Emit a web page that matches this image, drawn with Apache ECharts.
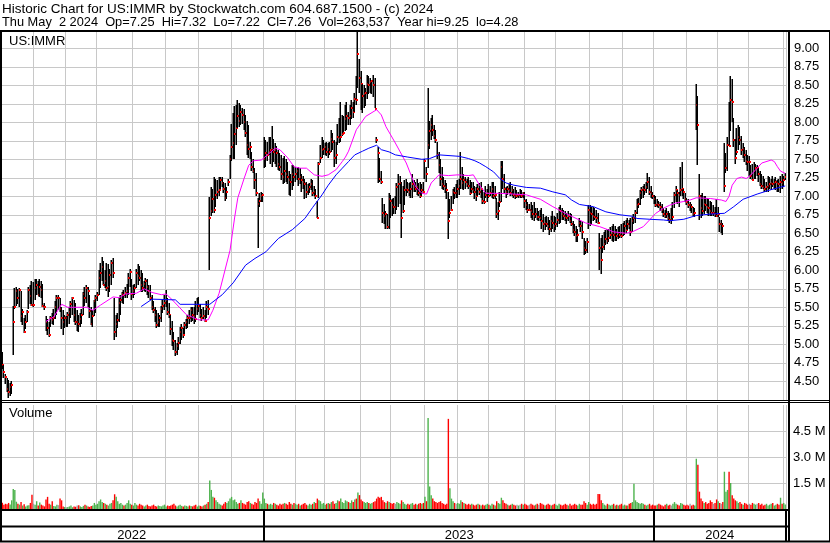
<!DOCTYPE html>
<html><head><meta charset="utf-8">
<script src="https://cdn.jsdelivr.net/npm/echarts@6/dist/echarts.min.js"></script>
<style>html,body{margin:0;padding:0;background:#fff}#c{width:830px;height:543px}</style>
</head><body><div id="c"></div>
<script>
const titleLine1 = 'Historic Chart for US:IMMR by Stockwatch.com 604.687.1500 - (c) 2024';
const titleLine2 = 'Thu May  2 2024  Op=7.25  Hi=7.32  Lo=7.22  Cl=7.26  Vol=263,537  Year hi=9.25  lo=4.28';
const symbolLabel = 'US:IMMR';
const volumeLabel = 'Volume';

const high = [
4.94,4.90,4.72,4.60,4.55,4.52,4.48,4.50,5.52,5.76,
5.78,5.75,5.76,5.72,5.48,5.36,5.40,5.46,5.78,5.80,
5.86,5.84,5.88,5.88,5.86,5.88,5.86,5.82,5.56,5.38,
5.34,5.30,5.38,5.42,5.48,5.58,5.66,5.66,5.62,5.50,
5.46,5.40,5.38,5.44,5.50,5.58,5.64,5.60,5.56,5.46,
5.40,5.42,5.48,5.70,5.78,5.80,5.78,5.66,5.50,5.46,
5.60,5.66,5.70,6.00,6.10,6.18,6.12,6.00,6.10,6.08,
6.02,6.14,6.16,5.62,5.40,5.42,5.62,5.66,5.70,5.74,
5.78,5.82,5.96,6.02,5.88,5.80,5.82,6.02,6.08,6.06,
6.00,5.96,5.86,5.90,5.88,5.80,5.80,5.66,5.58,5.50,
5.46,5.42,5.40,5.52,5.60,5.66,5.74,5.62,5.56,5.40,
5.32,5.16,5.06,5.02,5.10,5.24,5.28,5.22,5.30,5.34,
5.40,5.46,5.50,5.50,5.50,5.58,5.62,5.64,5.54,5.48,
5.50,5.46,5.58,5.60,6.99,7.12,7.10,7.26,7.24,7.22,
7.26,7.26,7.26,7.20,7.18,7.12,7.24,7.56,7.98,8.12,
8.22,8.24,8.30,8.26,8.24,8.20,8.18,8.10,8.02,7.96,
7.74,7.60,7.50,7.38,7.32,6.98,7.04,7.06,7.04,7.80,
7.76,7.74,7.80,7.80,7.95,7.78,7.72,7.68,7.62,7.58,
7.56,7.52,7.54,7.50,7.46,7.34,7.30,7.42,7.42,7.40,
7.38,7.40,7.38,7.30,7.28,7.24,7.20,7.16,7.18,7.24,
7.22,7.14,7.10,6.94,7.47,7.70,7.80,7.76,7.72,7.74,
7.72,7.74,7.90,7.86,7.76,7.74,7.98,8.06,8.28,8.10,
8.08,8.24,8.28,8.14,8.24,8.30,8.28,8.40,8.62,9.25,
8.86,8.70,8.52,8.50,8.46,8.64,8.62,8.60,8.56,8.64,
8.60,7.80,7.66,7.52,7.34,6.98,6.90,6.80,6.76,7.04,
7.02,6.96,6.98,7.00,7.18,7.30,7.28,7.20,7.14,7.22,
7.24,7.20,7.18,7.20,7.30,7.22,7.20,7.24,7.18,7.20,
7.16,7.20,7.50,7.40,8.46,8.02,8.06,8.10,7.96,7.90,
7.74,7.60,7.50,7.40,7.26,7.22,7.18,7.06,6.96,7.00,
7.10,7.12,7.16,7.22,7.24,7.60,7.40,7.30,7.26,7.24,
7.26,7.22,7.20,7.20,7.14,7.12,7.16,7.18,7.20,7.08,
7.06,7.14,7.10,7.16,7.14,7.20,7.20,7.14,6.98,6.92,
7.06,7.48,7.48,7.30,7.12,7.14,7.16,7.20,7.14,7.10,
7.12,7.08,7.06,7.10,7.08,7.06,7.06,6.96,6.92,6.90,
6.92,6.88,6.92,6.84,6.84,6.80,6.82,6.84,6.76,6.72,
6.74,6.72,6.68,6.74,6.80,6.74,6.72,6.78,6.86,6.88,
6.84,6.82,6.80,6.78,6.80,6.78,6.76,6.66,6.62,6.60,
6.56,6.70,6.68,6.66,6.44,6.40,6.44,6.88,6.88,6.86,
6.86,6.84,6.82,6.78,6.50,6.44,6.48,6.52,6.54,6.56,
6.56,6.58,6.60,6.62,6.60,6.56,6.58,6.60,6.62,6.64,
6.66,6.68,6.70,6.68,6.70,6.72,6.76,6.82,6.96,6.98,
7.08,7.12,7.14,7.16,7.20,7.32,7.26,7.14,7.06,7.02,
7.00,6.96,6.94,6.92,6.90,6.84,6.82,6.84,6.80,6.78,
6.84,6.92,7.06,7.14,7.08,7.06,7.40,7.46,7.10,7.04,
6.98,6.96,6.92,6.90,6.86,6.84,8.52,8.36,7.30,7.02,
7.04,7.00,7.00,6.98,6.96,6.94,6.92,6.88,6.86,6.96,
6.86,6.72,6.68,6.64,7.72,7.58,7.80,8.28,8.62,8.58,
8.06,7.78,7.92,7.96,7.94,7.82,7.72,7.66,7.62,7.56,
7.54,7.42,7.44,7.46,7.43,7.42,7.38,7.34,7.30,7.28,
7.24,7.20,7.28,7.26,7.24,7.28,7.24,7.26,7.22,7.24,
7.28,7.30,7.28,7.32];

const low = [
4.78,4.66,4.55,4.46,4.35,4.28,4.30,4.33,4.86,5.48,
5.52,5.55,5.50,5.30,5.26,5.15,5.20,5.30,5.48,5.55,
5.52,5.50,5.60,5.66,5.66,5.64,5.62,5.50,5.46,5.18,
5.12,5.10,5.24,5.28,5.26,5.34,5.40,5.46,5.44,5.20,
5.12,5.22,5.24,5.24,5.28,5.36,5.40,5.30,5.26,5.18,
5.16,5.24,5.28,5.40,5.52,5.56,5.50,5.36,5.26,5.24,
5.38,5.42,5.58,5.66,5.76,5.86,5.80,5.76,5.72,5.64,
5.70,5.80,5.90,5.06,5.10,5.22,5.30,5.40,5.56,5.54,
5.62,5.62,5.66,5.78,5.60,5.62,5.66,5.76,5.80,5.86,
5.70,5.70,5.72,5.70,5.66,5.62,5.60,5.46,5.42,5.30,
5.22,5.24,5.24,5.30,5.42,5.46,5.50,5.40,5.36,5.12,
4.98,4.92,4.84,4.86,4.92,5.00,5.06,5.08,5.14,5.20,
5.22,5.28,5.30,5.32,5.28,5.30,5.40,5.44,5.36,5.32,
5.34,5.30,5.36,5.40,6.00,6.74,6.78,6.78,6.86,6.96,
7.00,7.10,7.12,7.04,6.94,6.96,7.14,7.24,7.48,7.50,
7.50,7.70,7.92,7.94,7.96,7.98,7.90,7.80,7.56,7.52,
7.50,7.34,7.32,7.10,7.00,6.30,6.86,6.92,6.92,7.38,
7.40,7.48,7.56,7.44,7.40,7.46,7.44,7.40,7.36,7.34,
7.22,7.16,7.18,7.20,7.16,7.02,7.00,7.08,7.14,7.20,
7.22,7.14,7.16,7.06,7.10,6.96,6.98,7.02,7.04,7.08,
7.00,7.00,6.96,6.70,6.98,7.45,7.52,7.56,7.56,7.54,
7.52,7.56,7.60,7.62,7.40,7.44,7.70,7.72,7.74,7.82,
7.84,7.88,7.90,7.96,7.96,8.04,8.06,8.14,8.24,8.46,
8.40,8.16,8.12,8.20,8.22,8.32,8.38,8.40,8.38,8.34,
8.20,7.72,7.18,7.20,7.16,6.64,6.62,6.56,6.56,6.56,
6.70,6.74,6.76,6.76,6.82,6.86,6.90,6.44,6.78,6.88,
7.00,7.04,7.00,6.98,6.98,7.06,7.06,7.02,7.00,6.98,
7.00,7.04,7.24,7.20,7.38,7.64,7.76,7.82,7.78,7.72,
7.50,7.32,7.14,7.10,7.08,7.04,6.96,6.42,6.70,6.80,
6.90,6.96,6.98,6.98,7.02,7.10,7.10,7.08,7.10,7.12,
7.10,7.02,7.04,7.04,6.96,6.94,7.00,7.02,6.98,6.90,
6.90,6.98,6.92,6.98,7.00,6.98,6.96,6.96,6.70,6.68,
6.86,6.92,7.10,7.04,6.98,7.02,7.04,7.00,7.00,6.98,
6.96,6.98,6.98,6.98,6.98,6.98,6.84,6.82,6.78,6.80,
6.70,6.68,6.66,6.70,6.68,6.66,6.66,6.56,6.52,6.54,
6.58,6.54,6.48,6.52,6.56,6.52,6.54,6.58,6.62,6.64,
6.68,6.68,6.66,6.62,6.66,6.64,6.60,6.50,6.46,6.38,
6.38,6.58,6.52,6.42,6.20,6.22,6.24,6.56,6.60,6.62,
6.66,6.68,6.64,6.62,6.00,5.95,6.24,6.28,6.34,6.36,
6.38,6.42,6.40,6.38,6.40,6.40,6.42,6.44,6.44,6.46,
6.48,6.50,6.54,6.56,6.46,6.52,6.62,6.64,6.76,6.84,
6.88,6.96,6.98,7.02,7.04,7.10,7.02,6.98,6.96,6.90,
6.86,6.86,6.84,6.80,6.78,6.72,6.70,6.70,6.66,6.64,
6.62,6.66,6.84,6.92,6.90,6.86,7.00,7.00,6.96,6.92,
6.88,6.84,6.80,6.78,6.74,6.72,7.90,7.42,6.68,6.70,
6.74,6.76,6.80,6.78,6.74,6.74,6.74,6.74,6.72,6.72,
6.72,6.52,6.50,6.48,7.06,7.32,7.34,7.68,7.88,8.00,
7.66,7.44,7.56,7.62,7.70,7.56,7.52,7.46,7.42,7.34,
7.28,7.24,7.22,7.24,7.24,7.28,7.20,7.14,7.10,7.10,
7.06,7.06,7.06,7.10,7.08,7.12,7.10,7.08,7.06,7.06,
7.04,7.10,7.12,7.22];

const close = [
4.83,4.72,4.62,4.56,4.40,4.36,4.42,4.45,5.30,5.50,
5.72,5.62,5.74,5.38,5.43,5.17,5.30,5.44,5.74,5.65,
5.53,5.53,5.76,5.80,5.67,5.78,5.74,5.52,5.50,5.30,
5.22,5.12,5.36,5.33,5.36,5.50,5.62,5.62,5.48,5.36,
5.30,5.35,5.35,5.40,5.44,5.55,5.62,5.40,5.30,5.30,
5.28,5.34,5.40,5.68,5.62,5.76,5.72,5.45,5.28,5.38,
5.58,5.62,5.66,5.90,5.96,6.04,5.80,5.85,5.76,5.78,
5.94,6.10,5.96,5.16,5.28,5.33,5.56,5.60,5.68,5.66,
5.69,5.72,5.90,5.98,5.68,5.72,5.76,5.96,5.92,5.90,
5.80,5.76,5.82,5.86,5.78,5.72,5.62,5.50,5.47,5.40,
5.26,5.30,5.36,5.48,5.52,5.56,5.60,5.44,5.40,5.20,
5.06,5.04,4.90,4.98,5.02,5.16,5.22,5.12,5.26,5.30,
5.36,5.35,5.46,5.40,5.38,5.34,5.48,5.52,5.40,5.36,
5.38,5.32,5.50,5.48,6.70,6.80,6.96,6.82,7.02,7.06,
7.08,7.22,7.18,7.10,6.98,7.06,7.20,7.50,7.66,7.72,
7.84,7.92,8.08,8.02,8.14,8.10,8.00,7.86,7.70,7.64,
7.66,7.40,7.34,7.22,7.04,6.90,6.94,7.00,7.02,7.50,
7.58,7.56,7.60,7.62,7.64,7.60,7.62,7.58,7.44,7.40,
7.30,7.26,7.34,7.30,7.26,7.22,7.20,7.30,7.26,7.30,
7.34,7.24,7.26,7.22,7.20,7.16,7.06,7.10,7.12,7.16,
7.04,7.06,7.00,6.70,7.44,7.52,7.62,7.64,7.66,7.60,
7.64,7.60,7.78,7.74,7.52,7.56,7.80,7.79,7.80,7.84,
7.86,8.04,8.08,8.06,8.08,8.20,8.14,8.32,8.30,8.92,
8.60,8.52,8.36,8.38,8.40,8.52,8.50,8.54,8.56,8.50,
8.18,7.76,7.58,7.24,7.20,6.78,6.74,6.76,6.58,6.96,
6.94,6.88,6.86,6.86,7.12,7.16,7.18,6.70,6.80,7.08,
7.10,7.08,7.06,7.10,7.16,7.12,7.10,7.12,7.04,7.00,
7.08,7.06,7.48,7.30,7.70,7.88,7.96,7.90,7.82,7.76,
7.56,7.42,7.24,7.16,7.14,7.12,7.08,6.66,6.78,6.82,
7.06,7.04,7.04,7.10,7.14,7.24,7.18,7.22,7.20,7.16,
7.14,7.04,7.10,7.08,7.06,7.00,7.10,7.06,7.10,6.94,
6.92,7.02,7.04,7.00,7.04,7.10,7.00,7.02,6.76,6.80,
6.92,7.40,7.24,7.10,7.06,7.10,7.08,7.04,7.08,7.02,
7.00,7.00,7.02,7.02,7.00,7.04,6.93,6.88,6.82,6.82,
6.80,6.76,6.74,6.76,6.72,6.72,6.70,6.66,6.62,6.64,
6.62,6.60,6.56,6.66,6.64,6.60,6.62,6.68,6.82,6.80,
6.76,6.74,6.72,6.70,6.74,6.66,6.62,6.54,6.52,6.46,
6.48,6.64,6.60,6.52,6.30,6.28,6.38,6.82,6.78,6.76,
6.74,6.72,6.70,6.64,6.30,6.14,6.32,6.36,6.42,6.40,
6.44,6.48,6.50,6.48,6.50,6.47,6.50,6.48,6.46,6.50,
6.60,6.54,6.62,6.60,6.52,6.66,6.70,6.78,6.88,6.90,
7.04,7.08,7.10,7.08,7.12,7.20,7.06,7.04,7.00,6.96,
6.88,6.90,6.88,6.86,6.82,6.76,6.74,6.76,6.70,6.68,
6.68,6.72,7.02,7.08,7.04,7.02,7.08,7.10,7.06,6.96,
6.92,6.88,6.88,6.86,6.76,6.78,8.24,7.96,7.00,6.84,
6.80,6.90,6.88,6.86,6.84,6.80,6.78,6.78,6.76,6.74,
6.76,6.62,6.62,6.60,7.14,7.38,7.70,7.68,8.30,8.28,
7.76,7.52,7.60,7.80,7.76,7.62,7.64,7.56,7.48,7.46,
7.46,7.28,7.22,7.34,7.38,7.38,7.30,7.16,7.14,7.12,
7.10,7.12,7.14,7.16,7.18,7.16,7.18,7.20,7.18,7.16,
7.20,7.18,7.22,7.26];

// volume in thousands of shares
const volumeK = [
380,360,250,300,280,350,260,500,1150,1100,
420,300,250,400,200,280,150,200,220,350,
820,300,250,450,200,380,250,200,150,550,
700,300,250,450,180,150,250,220,600,500,
150,120,100,120,150,200,100,150,130,200,
220,150,120,180,250,200,150,120,180,200,
350,250,300,450,550,400,350,300,250,200,
300,350,500,850,700,450,300,350,250,200,
250,350,500,300,250,200,350,250,200,300,
250,200,150,200,250,180,150,200,250,180,
150,200,180,150,200,250,150,200,180,200,
250,300,200,150,200,250,180,150,200,180,
150,200,180,150,200,250,150,200,180,150,
200,250,300,400,1650,1100,700,650,500,400,
300,250,200,300,400,350,450,600,700,500,
550,400,300,350,500,350,300,250,400,450,
350,300,250,400,350,600,450,300,950,600,
350,300,250,300,250,350,300,250,200,300,
250,300,350,300,250,400,300,250,350,300,
250,300,200,250,300,350,250,200,300,250,
300,400,350,600,500,450,300,350,250,300,
350,300,400,450,300,350,500,450,600,400,
350,500,450,400,350,500,400,550,600,950,
800,550,450,400,350,400,350,300,350,400,
450,600,700,650,700,500,400,350,450,400,
350,300,350,300,400,350,300,500,400,300,
250,300,250,300,350,250,300,250,300,350,
300,350,700,450,5250,1300,800,600,450,400,
350,400,450,350,300,250,300,5200,1200,600,
450,350,300,350,300,500,400,350,300,250,
300,250,300,250,200,250,300,250,200,250,
200,250,300,250,200,300,250,200,450,350,
300,650,500,350,300,250,200,250,300,250,
200,250,200,250,300,250,300,250,200,250,
300,250,200,250,300,250,350,300,250,200,
250,300,250,200,250,300,250,200,300,250,
200,250,300,250,200,300,200,250,300,250,
200,300,250,250,450,350,250,400,300,250,
300,250,300,860,860,500,350,250,200,300,
250,200,250,300,200,250,200,250,300,200,
250,200,200,300,350,400,1460,500,400,350,
300,350,300,250,200,250,300,200,250,200,
200,250,300,250,200,150,250,300,200,250,
200,300,400,300,250,200,350,300,250,200,
250,200,300,200,250,200,2900,2550,1000,600,
450,350,400,300,350,500,400,300,350,550,
450,350,300,400,2150,1000,1100,2150,1500,800,
600,500,450,350,400,300,250,350,300,250,
300,250,350,300,250,300,350,250,300,200,
250,300,200,250,300,350,200,250,300,250,
650,300,350,264];

// moving averages: [bar index, value]
const maMagenta = [[29,5.31],[34,5.37],[39,5.54],[43,5.50],[55,5.50],[59,5.46],[64,5.53],[72,5.64],[76,5.63],[80,5.68],[87,5.69],[92,5.75],[97,5.70],[103,5.67],[106,5.68],[110,5.60],[119,5.40],[127,5.33],[133,5.33],[136,5.46],[140,5.69],[147,6.27],[150,6.72],[152,6.98],[156,7.24],[159,7.42],[162,7.48],[167,7.49],[171,7.56],[176,7.65],[179,7.63],[184,7.52],[188,7.40],[192,7.38],[196,7.38],[201,7.29],[206,7.27],[210,7.29],[215,7.36],[219,7.47],[221,7.53],[223,7.61],[228,7.90],[234,8.08],[241,8.17],[244,8.10],[247,7.94],[253,7.72],[260,7.45],[266,7.13],[270,7.04],[273,7.03],[276,7.18],[281,7.29],[287,7.28],[293,7.29],[300,7.28],[303,7.29],[307,7.15],[311,7.04],[320,7.04],[329,7.03],[337,7.02],[346,6.96],[354,6.86],[362,6.77],[371,6.68],[375,6.64],[384,6.59],[393,6.52],[401,6.50],[405,6.52],[408,6.55],[412,6.59],[416,6.68],[420,6.77],[425,6.84],[429,6.88],[433,6.91],[438,6.93],[442,6.95],[446,6.98],[455,6.97],[462,6.95],[465,6.93],[467,7.00],[469,7.15],[472,7.24],[475,7.26],[478,7.24],[481,7.29],[485,7.38],[488,7.45],[494,7.49],[496,7.47],[498,7.40],[500,7.34],[503,7.31]];
const maBlue = [[90,5.51],[97,5.61],[112,5.60],[115,5.54],[134,5.54],[142,5.67],[149,5.83],[157,6.07],[163,6.16],[170,6.25],[178,6.43],[187,6.55],[195,6.70],[200,6.85],[206,7.02],[210,7.15],[215,7.29],[219,7.38],[223,7.47],[227,7.56],[232,7.61],[236,7.65],[241,7.69],[244,7.63],[249,7.60],[253,7.56],[261,7.53],[270,7.50],[275,7.51],[281,7.56],[294,7.54],[300,7.51],[304,7.48],[307,7.45],[311,7.40],[316,7.33],[320,7.24],[324,7.18],[329,7.15],[337,7.12],[346,7.11],[354,7.06],[362,7.02],[366,6.95],[371,6.89],[380,6.86],[388,6.79],[397,6.75],[405,6.73],[408,6.70],[416,6.69],[425,6.68],[429,6.67],[438,6.69],[446,6.74],[455,6.76],[464,6.77],[470,6.86],[476,6.96],[485,7.03],[494,7.09],[503,7.14]];

const monthStartIdx = [0,21,42,62,85,106,127,148,169,189,208,231,250,272,293,313,336,356,378,399,419,440,460,480,502];
const yearStartIdx = [169,419];
const yearLabelIdx = [84,294,461];
const yearLabels = ['2022','2023','2024'];
const priceTicks = [4.50,4.75,5.00,5.25,5.50,5.75,6.00,6.25,6.50,6.75,7.00,7.25,7.50,7.75,8.00,8.25,8.50,8.75,9.00];
const volumeTicks = [1500,3000,4500];

const cats = close.map((_, i) => String(i));
const FONT = '"Liberation Sans", Arial, sans-serif';
const GRIDC = '#c8c8c8';

const volData = volumeK.map((v, i) => {
  let col = '#a0a0a0';
  if (i > 0 && close[i] > close[i-1]) col = '#4db34d';
  else if (i > 0 && close[i] < close[i-1]) col = '#ff0000';
  return { value: v, itemStyle: { color: col } };
});

const monthSet = new Set(monthStartIdx);
const yearSet = new Set(yearStartIdx);

function catAxis(gi, splitSet, splitColor, splitWidth, extra) {
  return Object.assign({
    type: 'category', gridIndex: gi, data: cats, boundaryGap: true,
    axisLine: { show: false }, axisTick: { show: false }, axisLabel: { show: false },
    splitLine: { show: true, interval: (idx) => splitSet.has(idx), lineStyle: { color: splitColor, width: splitWidth } }
  }, extra || {});
}

const chart = echarts.init(document.getElementById('c'), null, { renderer: 'canvas' });
const line = (x1, y1, x2, y2, w) => ({ type: 'line', z: 100, silent: true,
  shape: { x1, y1, x2, y2 }, style: { stroke: '#000', lineWidth: w } });
const txt = (x, y, t, size) => ({ type: 'text', z: 100, silent: true,
  style: { x, y, text: t, font: size + 'px ' + FONT, fill: '#000', verticalAlign: 'middle' } });

chart.setOption({
  animation: false,
  backgroundColor: '#fff',
  grid: [
    { left: 0, top: 31, width: 786, height: 369 },
    { left: 0, top: 405, width: 786, height: 104 },
    { left: 0, top: 510, width: 786, height: 31 }
  ],
  xAxis: [
    catAxis(0, monthSet, GRIDC, 1),
    catAxis(1, monthSet, GRIDC, 1),
    catAxis(2, yearSet, '#000', 2, {
      axisLabel: { show: true, inside: true, margin: -1, interval: (idx) => yearLabelIdx.includes(idx),
        formatter: (v, idx) => yearLabels[yearLabelIdx.indexOf(idx)] || '',
        fontSize: 13, fontFamily: FONT, color: '#000' }
    })
  ],
  yAxis: [
    { type: 'value', gridIndex: 0, position: 'right', min: 4.247, max: 9.234,
      axisLine: { show: false }, axisTick: { show: false, customValues: priceTicks },
      axisLabel: { customValues: priceTicks, formatter: (v) => v.toFixed(2), margin: 8, fontSize: 13, fontFamily: FONT, color: '#000' },
      splitLine: { show: true, lineStyle: { color: GRIDC, width: 1 } } },
    { type: 'value', gridIndex: 1, position: 'right', min: 0, max: 6000,
      axisLine: { show: false }, axisTick: { show: false, customValues: volumeTicks },
      axisLabel: { customValues: volumeTicks, formatter: (v) => (v / 1000).toFixed(1) + ' M', margin: 7, fontSize: 13, fontFamily: FONT, color: '#000' },
      splitLine: { show: true, lineStyle: { color: GRIDC, width: 1 } } },
    { type: 'value', gridIndex: 2, show: false, min: 0, max: 1 }
  ],
  series: [
    { type: 'custom', xAxisIndex: 0, yAxisIndex: 0, clip: true, z: 3,
      encode: { x: 0, y: [1, 2, 3] },
      data: close.map((c, i) => [i, high[i], low[i], c]),
      renderItem: (params, api) => {
        const i = api.value(0);
        const pHi = api.coord([i, api.value(1)]);
        const pLo = api.coord([i, api.value(2)]);
        const pCl = api.coord([i, api.value(3)]);
        const x = Math.floor(pHi[0]);
        return { type: 'group', children: [
          { type: 'rect', shape: { x: x - 0.5, y: Math.round(pHi[1]), width: 1.5, height: Math.max(1, Math.round(pLo[1]) - Math.round(pHi[1])) }, style: { fill: '#000' } },
          { type: 'rect', shape: { x: x, y: Math.round(pCl[1]) - 1, width: 2, height: 2 }, style: { fill: '#ff0000' } }
        ]};
      }
    },
    { type: 'line', xAxisIndex: 0, yAxisIndex: 0, data: maMagenta, showSymbol: false, symbol: 'none', z: 5,
      lineStyle: { color: '#ff00ff', width: 1 }, silent: true },
    { type: 'line', xAxisIndex: 0, yAxisIndex: 0, data: maBlue, showSymbol: false, symbol: 'none', z: 5,
      lineStyle: { color: '#0000ff', width: 1 }, silent: true },
    { type: 'bar', xAxisIndex: 1, yAxisIndex: 1, data: volData, barCategoryGap: '10%', silent: true }
  ],
  graphic: [
    txt(2, 9.3, titleLine1, 13.5),
    txt(2, 22.6, titleLine2, 12.8),
    txt(9, 41.5, symbolLabel, 13),
    txt(9, 413, volumeLabel, 13),
    line(0, 31, 830, 31, 2),
    line(1, 30, 1, 542, 2),
    line(789, 30, 789, 542, 2),
    line(0, 400.5, 830, 400.5, 1),
    line(0, 402.5, 830, 402.5, 1),
    line(0, 510, 790, 510, 2),
    line(0, 526.5, 790, 526.5, 2),
    line(0, 541.5, 830, 541.5, 2),
    line(829.5, 30, 829.5, 542, 1)
  ]
});
</script>
</body></html>
